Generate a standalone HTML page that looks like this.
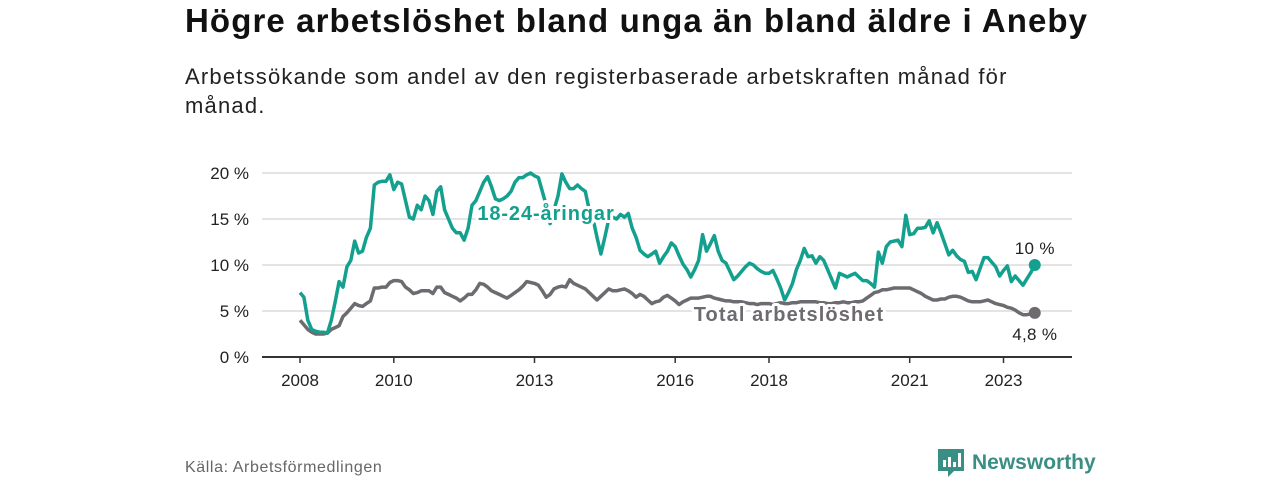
<!DOCTYPE html>
<html><head><meta charset="utf-8">
<style>
body{margin:0;background:#fff;width:1280px;height:480px;overflow:hidden;font-family:"Liberation Sans",sans-serif;}
#title{position:absolute;left:185px;top:2px;font-size:33px;letter-spacing:1.1px;font-weight:bold;color:#111;margin:0;white-space:nowrap;}
#sub{position:absolute;left:185px;top:62px;width:850px;font-size:22px;letter-spacing:1.2px;line-height:29px;color:#222;margin:0;}
#src{position:absolute;left:185px;top:459px;font-size:16px;letter-spacing:0.6px;color:#666;}
#logo{position:absolute;left:938px;top:447px;display:flex;align-items:center;}
#logo span{font-size:21px;color:#3a8f84;margin-left:8px;font-weight:bold;}
svg{position:absolute;left:0;top:0;}
.tl{font-size:17px;fill:#222;}
</style></head><body>
<h1 id="title">Högre arbetslöshet bland unga än bland äldre i Aneby</h1>
<p id="sub">Arbetssökande som andel av den registerbaserade arbetskraften månad för månad.</p>
<div id="src">Källa: Arbetsförmedlingen</div>
<div id="logo">
<svg width="26" height="32" viewBox="0 0 26 32" style="position:static"><path d="M0 2h26v22H16l-6 6v-6H0z" fill="#3a8f84"/><rect x="5" y="13" width="3" height="7" fill="#fff"/><rect x="10" y="10" width="3" height="10" fill="#fff"/><rect x="15" y="15" width="3" height="5" fill="#fff"/><rect x="20" y="6" width="3" height="14" fill="#fff"/></svg>
<span>Newsworthy</span></div>
<svg id="chart" width="1280" height="480"></svg>
<script>
const yTicks=[0,5,10,15,20];
const yTickLabels=["0 %","5 %","10 %","15 %","20 %"];
const xTicks=[2008,2010,2013,2016,2018,2021,2023];
const startYear=2008;
const youth=[7,6.5,4,3,2.8,2.7,2.7,2.6,4,6,8.2,7.6,
9.8,10.5,12.6,11.3,11.5,13,14,18.7,19,19.1,19.1,19.8,
18.2,19,18.8,17,15.2,15,16.5,16,17.5,17,15.5,18,
18.5,16,15,14,13.5,13.5,12.7,14,16.5,17,18,19,
19.6,18.5,17.2,17,17.2,17.5,18,19,19.5,19.5,19.8,20,
19.7,19.5,18,16.5,14.5,16,17.5,19.9,19,18.3,18.3,18.7,
18.3,18,16,15,13,11.2,13,15,15.2,15,15.5,15.2,
15.6,14,13,11.6,11.2,10.9,11.2,11.5,10.2,10.9,11.5,12.4,
12,11,10.1,9.5,8.7,9.5,10.5,13.3,11.5,12.3,13.2,11.5,
10.5,10.2,9.3,8.4,8.8,9.3,9.8,10.2,10,9.6,9.3,9.1,
9.1,9.4,8.5,7.5,6.2,7,8,9.5,10.5,11.8,10.9,11,
10.2,10.9,10.5,9.5,8.5,7.5,9.1,8.9,8.7,8.9,9.1,8.7,
8.3,8.3,8,7.6,11.4,10.2,12,12.5,12.6,12.7,12,15.4,
13.3,13.4,14,14,14.1,14.8,13.5,14.6,13.5,12.3,11.1,11.6,
11,10.6,10.4,9.2,9.3,8.4,9.6,10.8,10.8,10.3,9.8,8.8,
9.4,9.9,8.2,8.8,8.3,7.8,8.5,9.2,10];
const total=[4.0,3.5,3.0,2.7,2.5,2.5,2.5,2.6,3.0,3.2,3.4,4.4,
4.8,5.3,5.8,5.6,5.5,5.8,6.1,7.5,7.5,7.6,7.6,8.1,
8.3,8.3,8.2,7.6,7.3,6.9,7.0,7.2,7.2,7.2,6.9,7.6,
7.6,7.0,6.8,6.6,6.4,6.1,6.4,6.8,6.8,7.3,8.0,7.9,
7.6,7.2,7.0,6.8,6.6,6.4,6.7,7.0,7.3,7.7,8.2,8.1,
8.0,7.8,7.2,6.5,6.8,7.4,7.6,7.7,7.6,8.4,8.0,7.8,
7.6,7.4,7.0,6.6,6.2,6.6,7.0,7.4,7.2,7.2,7.3,7.4,
7.2,6.9,6.5,6.8,6.6,6.2,5.8,6.0,6.1,6.5,6.7,6.4,
6.1,5.7,6.0,6.2,6.4,6.4,6.4,6.5,6.6,6.6,6.4,6.3,
6.2,6.1,6.1,6.0,6.0,6.0,5.9,5.8,5.8,5.7,5.8,5.8,
5.8,5.7,5.8,5.9,5.8,5.8,5.9,5.9,6.0,6.0,6.0,6.0,
6.0,5.9,5.9,5.8,5.8,5.9,5.9,6.0,5.9,5.9,6.0,6.0,
6.1,6.4,6.7,7.0,7.1,7.3,7.3,7.4,7.5,7.5,7.5,7.5,
7.5,7.3,7.1,6.9,6.6,6.4,6.2,6.2,6.3,6.3,6.5,6.6,
6.6,6.5,6.3,6.1,6.0,6.0,6.0,6.1,6.2,6.0,5.8,5.7,
5.6,5.4,5.3,5.1,4.8,4.6,4.6,4.7,4.8];
const youthEndLabel="10 %";
const totalEndLabel="4,8 %";

const NS="http://www.w3.org/2000/svg";
const svg=document.getElementById('chart');
const L=262,R=1072,Y0=357,Y20=173;
const yS=v=>Y0-(Y0-Y20)*v/20;
const xYear=y=>300+(y-startYear)*46.9;
const xM=m=>xYear(startYear+m/12);
function mk(t,a){const e=document.createElementNS(NS,t);for(const k in a)e.setAttribute(k,a[k]);svg.appendChild(e);return e;}
yTicks.forEach((v,i)=>{
  const g=mk('line',{x1:L,x2:R,y1:yS(v),y2:yS(v),stroke:'#dcdcdc','stroke-width':1.5});
  
  
  const t=mk('text',{x:249,y:yS(v)+6,'text-anchor':'end',class:'tl'});t.textContent=yTickLabels[i];
  
  
});
const ax=mk('line',{x1:L,x2:R,y1:Y0,y2:Y0,stroke:'#333','stroke-width':2});


xTicks.forEach(y=>{
  const tk=mk('line',{x1:xYear(y),x2:xYear(y),y1:Y0,y2:Y0+6,stroke:'#333','stroke-width':1.5});
  
  
  const t=mk('text',{x:xYear(y),y:Y0+29,'text-anchor':'middle',class:'tl'});t.textContent=y;
  
  
});
function line(arr,col,name){
  const p=mk('polyline',{points:arr.map((v,i)=>xM(i).toFixed(1)+','+yS(v).toFixed(1)).join(' '),fill:'none',stroke:col,'stroke-width':3.5,'stroke-linejoin':'round'});
  
  
  const c=mk('circle',{cx:xM(arr.length-1),cy:yS(arr[arr.length-1]),r:6,fill:col});
  
  
}
line(total,'#6d6a70','total-line');
line(youth,'#14a08e','youth-line');
function lab(x,y,txt,col,name,anchor,size,bold,ls){
  const t=mk('text',{x:x,y:y,'text-anchor':anchor,fill:col,'font-size':size,'letter-spacing':ls,'font-weight':bold?'bold':'normal',stroke:'#fff','stroke-width':bold?6:5,'paint-order':'stroke','stroke-linejoin':'round'});
  t.textContent=txt;
  
  
}
lab(546,220,'18-24-åringar','#14a08e','youth-series-label','middle',20,true,0.9);
lab(789,321,'Total arbetslöshet','#6d6a70','total-series-label','middle',20,true,1.1);
lab(xM(youth.length-1),yS(youth[youth.length-1])-11,youthEndLabel,'#222','youth-end-value','middle',17,false,0.3);
lab(xM(total.length-1),yS(total[total.length-1])+27,totalEndLabel,'#222','total-end-value','middle',17,false,0.3);
</script>
</body></html>
